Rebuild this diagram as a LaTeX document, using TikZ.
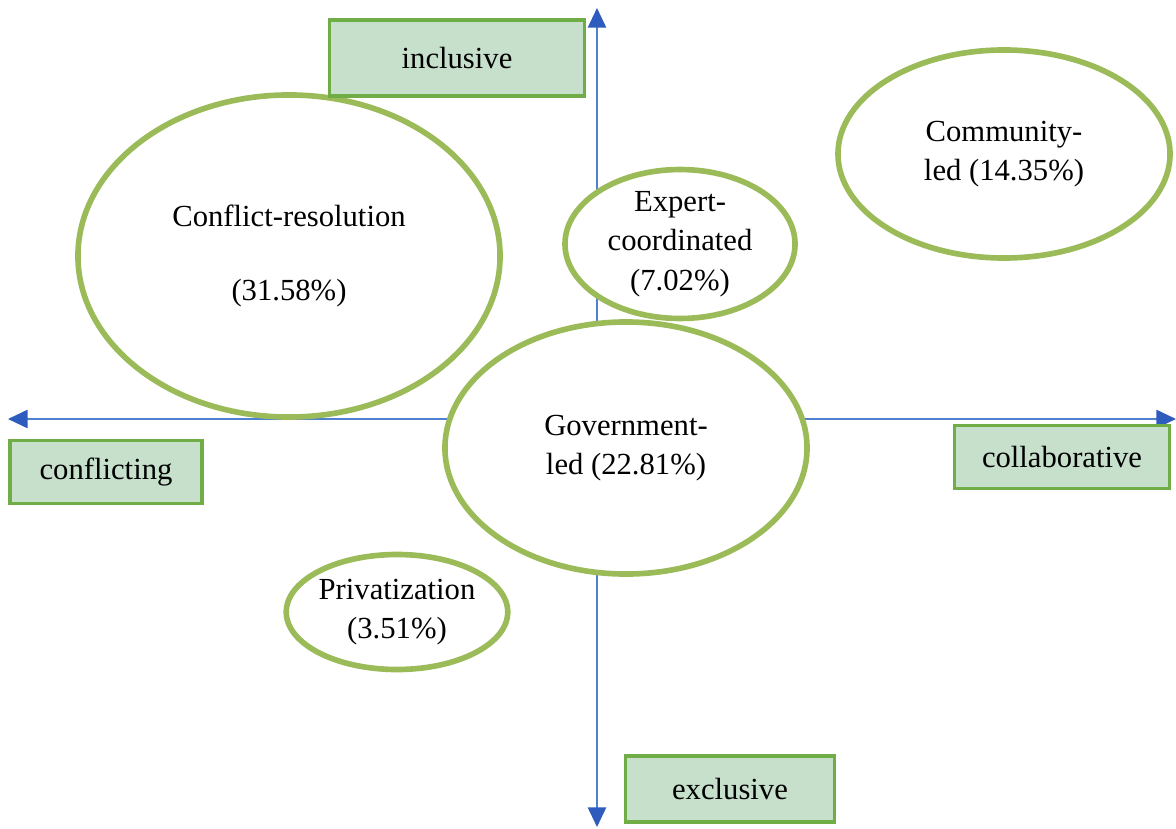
\documentclass[tikz,border=0pt]{standalone}
\usepackage{fontspec}
\setmainfont{Liberation Serif}
\usepackage{tikz}
\usetikzlibrary{shapes.geometric,arrows.meta}

\definecolor{axisblue}{RGB}{80,128,210}
\definecolor{tipblue}{RGB}{46,92,190}
\definecolor{ringgreen}{RGB}{155,187,89}
\definecolor{boxgreen}{RGB}{112,173,71}
\definecolor{boxfill}{RGB}{198,224,204}

\begin{document}
\begin{tikzpicture}
[x=0.025cm,y=-0.025cm]
\tikzset{
	axis/.style = {draw=axisblue, line width=1.4pt, {Triangle[width=13pt,length=14pt,color=tipblue]}-{Triangle[width=13pt,length=14pt,color=tipblue]}},
	cluster/.style = {ellipse, draw=ringgreen, fill=white, line width=4pt, inner sep=0, align=center, font=\fontsize{21.8}{28}\selectfont},
	pole/.style = {rectangle, draw=boxgreen, fill=boxfill, line width=2.6pt, inner sep=0, font=\fontsize{21.8}{28}\selectfont}
}
\useasboundingbox (0,0) rectangle (1176,828);

\coordinate (top) at (597,8);
\coordinate (bottom) at (597,827);
\coordinate (left) at (8,419);
\coordinate (right) at (1176,419);
\draw [axis] (bottom) -- (top);
\draw [axis] (right) -- (left);

\node(conflict) [cluster, minimum width=10.55cm, minimum height=8.05cm] at (289,256)
	{Conflict-resolution\\[24pt](31.58\%)};
\node(community) [cluster, minimum width=8.3cm, minimum height=5.2cm] at (1004,154)
	{Community-\\led (14.35\%)};
\node(expert) [cluster, minimum width=5.75cm, minimum height=3.7cm] at (680,244)
	{Expert-\\coordinated\\(7.02\%)};
\node(government) [cluster, minimum width=9.05cm, minimum height=6.3cm] at (626,448)
	{Government-\\led (22.81\%)};
\node(privatization) [cluster, minimum width=5.25cm, minimum height=2.875cm] at (397,612)
	{Privatization\\(3.51\%)};

\node(inclusive) [pole, minimum width=6.375cm, minimum height=1.9cm] at (457,58) {inclusive};
\node(conflicting) [pole, minimum width=4.8cm, minimum height=1.575cm] at (106,472) {conflicting};
\node(collaborative) [pole, minimum width=5.375cm, minimum height=1.575cm] at (1062,457) {collaborative};
\node(exclusive) [pole, minimum width=5.225cm, minimum height=1.65cm] at (730,789) {exclusive};

\end{tikzpicture}
\end{document}
